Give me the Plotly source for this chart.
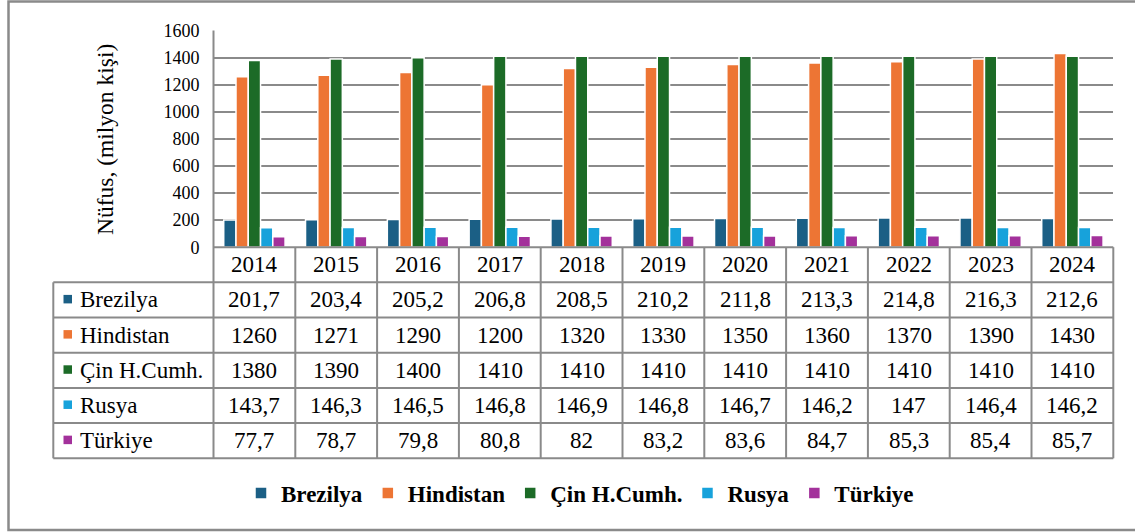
import plotly.graph_objects as go

years = ["2014", "2015", "2016", "2017", "2018", "2019", "2020", "2021", "2022", "2023", "2024"]
series_names = ["Brezilya", "Hindistan", "Çin H.Cumh.", "Rusya", "Türkiye"]
brezilya = [201.7, 203.4, 205.2, 206.8, 208.5, 210.2, 211.8, 213.3, 214.8, 216.3, 212.6]
hindistan = [1260, 1271, 1290, 1200, 1320, 1330, 1350, 1360, 1370, 1390, 1430]
cin = [1380, 1390, 1400, 1410, 1410, 1410, 1410, 1410, 1410, 1410, 1410]
rusya = [143.7, 146.3, 146.5, 146.8, 146.9, 146.8, 146.7, 146.2, 147, 146.4, 146.2]
turkiye = [77.7, 78.7, 79.8, 80.8, 82, 83.2, 83.6, 84.7, 85.3, 85.4, 85.7]
y_ticks = [0, 200, 400, 600, 800, 1000, 1200, 1400, 1600]

colors = ["#1B5F85", "#ED7534", "#1C6B27", "#17A2DB", "#A3319B"]
series_values = [brezilya, hindistan, cin, rusya, turkiye]

W, H = 1135, 532
FONT = "Liberation Serif, 'Times New Roman', serif"
GRAY = "#8A8A8A"

def px_x(p):
    return p / W

def px_y(p):
    return 1 - p / H

def fmt(v):
    if float(v).is_integer():
        return str(int(v))
    return str(v).replace(".", ",")

plot_left, plot_right = 213.5, 1113.3
plot_top, plot_bottom = 30.6, 247.2
row_lines = [247.2, 282.3, 317.5, 352.7, 387.9, 423.0, 458.3]
label_left = 53.3
n = len(years)
col_w = (plot_right - plot_left) / n

fig = go.Figure()
for name, vals, col in zip(series_names, series_values, colors):
    fig.add_trace(go.Bar(
        x=years, y=vals, name=name,
        marker=dict(color=col, line=dict(color="white", width=1.5)),
    ))

shapes = []
line = dict(color=GRAY, width=2)
shapes.append(dict(type="rect", xref="paper", yref="paper",
                   x0=px_x(8.5), x1=px_x(1140), y0=px_y(530), y1=px_y(1.5),
                   line=dict(color=GRAY, width=2.5), layer="below"))
shapes.append(dict(type="line", xref="paper", yref="paper",
                   x0=px_x(plot_left), x1=px_x(plot_left),
                   y0=px_y(plot_top), y1=px_y(row_lines[-1]), line=line))
for i, ry in enumerate(row_lines):
    x0 = plot_left if i == 0 else label_left
    shapes.append(dict(type="line", xref="paper", yref="paper",
                       x0=px_x(x0), x1=px_x(plot_right),
                       y0=px_y(ry), y1=px_y(ry), line=line))
for k in range(1, n + 1):
    xx = plot_left + k * col_w
    shapes.append(dict(type="line", xref="paper", yref="paper",
                       x0=px_x(xx), x1=px_x(xx),
                       y0=px_y(row_lines[0]), y1=px_y(row_lines[-1]), line=line))
shapes.append(dict(type="line", xref="paper", yref="paper",
                   x0=px_x(label_left), x1=px_x(label_left),
                   y0=px_y(row_lines[1]), y1=px_y(row_lines[-1]), line=line))

annotations = []
txt_font = dict(family=FONT, size=23, color="black")
annotations.append(dict(text="Nüfus, (milyon kişi)", xref="paper", yref="paper",
                        x=px_x(105), y=px_y(140), xanchor="center", yanchor="middle",
                        showarrow=False, textangle=-90,
                        font=dict(family=FONT, size=23.5, color="black")))
hy = (row_lines[0] + row_lines[1]) / 2
for i, yr in enumerate(years):
    annotations.append(dict(text=yr, xref="x", yref="paper", x=i, y=px_y(hy),
                            xanchor="center", yanchor="middle",
                            showarrow=False, font=txt_font))
for r, (name, vals, col) in enumerate(zip(series_names, series_values, colors)):
    cy = (row_lines[r + 1] + row_lines[r + 2]) / 2
    shapes.append(dict(type="rect", xref="paper", yref="paper",
                       x0=px_x(63.5), x1=px_x(72), y0=px_y(cy + 3.5), y1=px_y(cy - 5),
                       fillcolor=col, line=dict(width=0)))
    annotations.append(dict(text=name, xref="paper", yref="paper", x=px_x(78), y=px_y(cy),
                            xanchor="left", yanchor="middle", showarrow=False, font=txt_font))
    for i, v in enumerate(vals):
        annotations.append(dict(text=fmt(v), xref="x", yref="paper", x=i, y=px_y(cy),
                                xanchor="center", yanchor="middle",
                                showarrow=False, font=txt_font))

fig.update_layout(
    width=W, height=H,
    margin=dict(l=0, r=0, t=0, b=0, pad=0, autoexpand=False),
    paper_bgcolor="white", plot_bgcolor="white",
    barmode="group", bargap=0.25, bargroupgap=0,
    font=dict(family=FONT, color="black"),
    xaxis=dict(type="category", domain=[px_x(plot_left), px_x(plot_right)],
               range=[-0.5, n - 0.5], autorange=False, automargin=False,
               showticklabels=False, showgrid=False, zeroline=False, showline=False, ticks=""),
    yaxis=dict(domain=[px_y(plot_bottom), px_y(plot_top)], range=[0, 1600], automargin=False,
               tickvals=y_ticks, showgrid=True, gridcolor=GRAY, gridwidth=2,
               zeroline=False, showline=False, ticks="", ticklabelstandoff=13,
               tickfont=dict(family=FONT, size=18, color="black")),
    legend=dict(orientation="h", x=px_x(580), y=px_y(493), xanchor="center", yanchor="middle",
                font=dict(family=FONT, size=23, color="black", weight="bold"),
                itemwidth=30, traceorder="normal", bgcolor="rgba(0,0,0,0)"),
    shapes=shapes, annotations=annotations,
    showlegend=True,
)

fig.write_html("out.html", config={"displayModeBar": False},
               post_script="document.body.style.margin='0px';")
